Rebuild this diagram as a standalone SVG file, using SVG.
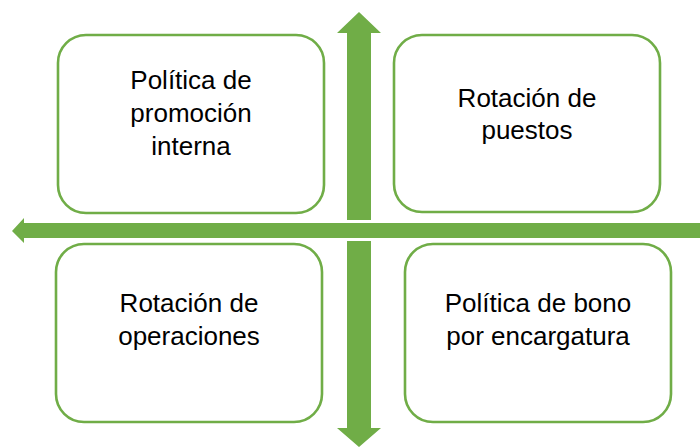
<svg xmlns="http://www.w3.org/2000/svg" width="700" height="447" viewBox="0 0 700 447">
<style>
.box{fill:#fff;stroke:#70AD47;stroke-width:2.6}
.arrow{fill:#70AD47;stroke:none}
.t{font-family:"Liberation Sans",Arial,sans-serif;font-size:26px;fill:#000;text-anchor:middle}
</style>
<rect width="700" height="447" fill="#fff"/>
<g id="connectors">
<polygon class="arrow" points="24,218 24,223 700,223 700,238 24,238 24,243 12,231"/>
<polygon class="arrow" points="347,220 347,33 337,33 359,12 381,33 371,33 371,220"/>
<polygon class="arrow" points="347,241 371,241 371,428 381,428 359,447 337,428 347,428"/>
</g>
<g id="node-tl">
<rect class="box" x="58" y="35" width="266" height="178" rx="28"/>
<text class="t" x="191" y="89">Política de</text>
<text class="t" x="191" y="122">promoción</text>
<text class="t" x="191" y="155">interna</text>
</g>
<g id="node-tr">
<rect class="box" x="394" y="35" width="266" height="177" rx="28"/>
<text class="t" x="527" y="107">Rotación de</text>
<text class="t" x="527" y="139">puestos</text>
</g>
<g id="node-bl">
<rect class="box" x="56" y="244" width="266" height="178" rx="28"/>
<text class="t" x="189" y="312">Rotación de</text>
<text class="t" x="189" y="345">operaciones</text>
</g>
<g id="node-br">
<rect class="box" x="405" y="244" width="266" height="178" rx="28"/>
<text class="t" x="538" y="312">Política de bono</text>
<text class="t" x="538" y="345">por encargatura</text>
</g>
</svg>
